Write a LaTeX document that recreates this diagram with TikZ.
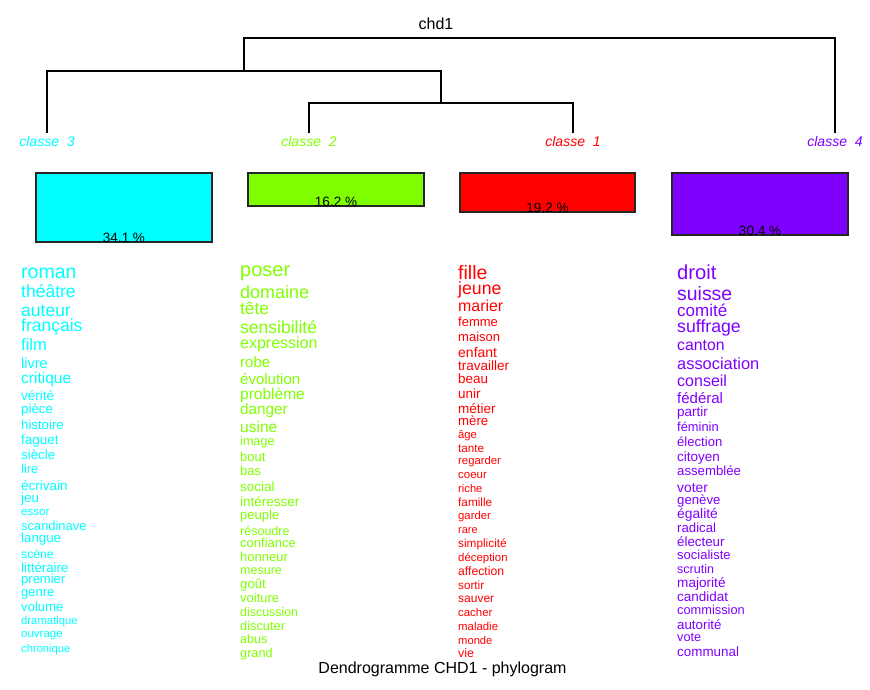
\documentclass[tikz,border=0pt]{standalone}
\usepackage{fontspec}
\setmainfont{Liberation Sans}
\definecolor{clsone}{RGB}{255,0,0}
\definecolor{clstwo}{RGB}{128,255,0}
\definecolor{clsthree}{RGB}{0,255,255}
\definecolor{clsfour}{RGB}{128,0,255}
\begin{document}
\begin{tikzpicture}[x=1pt,y=-1pt,
  tree/.style={line width=1.2pt},
  leaf/.style={anchor=base,font=\fontsize{14}{14}\selectfont\itshape,inner sep=1pt,outer sep=2pt},
  bar/.style={draw=black!85,line width=1.2pt,anchor=north west,inner sep=0pt,outer sep=0pt},
  pct/.style={anchor=base,font=\fontsize{13.5}{13.5}\selectfont,inner sep=0pt},
  word/.style={anchor=base west,inner sep=0pt}]
  \path[use as bounding box,fill=white] (0,0) rectangle (870,689);

  \node[anchor=base,font=\fontsize{16}{16}\selectfont] (title) at (436,29) {chd1};
  \node[anchor=base,font=\fontsize{16}{16}\selectfont] (caption) at (442.5,673) {Dendrogramme CHD1 - phylogram};

  \node[leaf,text=clsthree] (c3) at (47,146) {classe\ \ 3};
  \node[leaf,text=clstwo] (c2) at (309,146) {classe\ \ 2};
  \node[leaf,text=clsone] (c1) at (573,146) {classe\ \ 1};
  \node[leaf,text=clsfour] (c4) at (835,146) {classe\ \ 4};

  \coordinate (root) at (539.5,38);
  \coordinate (sub) at (244,71);
  \coordinate (inner) at (441,103);
  \draw[tree] (c3.north) |- (sub) -| (inner);
  \draw[tree] (c2.north) |- (inner) -| (c1.north);
  \draw[tree] (sub) |- (root) -| (c4.north);

  \node[bar,fill=clsthree,minimum width=176pt,minimum height=69pt] (b3) at (36,173) {};
  \node[bar,fill=clstwo,minimum width=176pt,minimum height=33pt] (b2) at (248,173) {};
  \node[bar,fill=clsone,minimum width=175pt,minimum height=39pt] (b1) at (460,173) {};
  \node[bar,fill=clsfour,minimum width=176pt,minimum height=62pt] (b4) at (672,173) {};
  \node[pct] (p3) at (b3.south) {34.1 \%};
  \node[pct] (p2) at (b2.south) {16.2 \%};
  \node[pct] (p1) at (b1.south) {19.2 \%};
  \node[pct] (p4) at (b4.south) {30.4 \%};

  \foreach \t/\s/\y [count=\i] in {roman/19.5/272,théâtre/17.5/291,auteur/17.5/310,français/17.5/325,film/16.5/345,livre/14.5/363,critique/15.5/378,vérité/13.5/395,pièce/13.3/409,histoire/13.2/425,faguet/13.5/439,siècle/13.3/455,lire/12.7/469,écrivain/13.5/485,jeu/13.5/497,essor/11.6/511,scandinave/12.9/526,langue/13.3/538,scène/12.2/554,littéraire/13.3/568,premier/13/579,genre/13/592,volume/13.1/607,dramatique/11.3/620,ouvrage/11.5/633,chronique/11.2/648}
    {\pgfmathsetmacro\yb{\y+0.26*\s+1.5}
     \node[word,text=clsthree,font=\fontsize{\s}{\s}\selectfont] (wthree\i) at (21,\yb) {\t};}

  \foreach \t/\s/\y [count=\i] in {poser/20/270,domaine/18/292,tête/17.2/309,sensibilité/17.5/327,expression/16/343,robe/15/362,évolution/15/379,problème/15.5/394,danger/15.3/409,usine/15.5/427,image/12.6/441,bout/13/457,bas/13/471,social/13.5/486,intéresser/13.5/501,peuple/13/515,résoudre/12.5/531,confiance/13/543,honneur/13/557,mesure/12.5/570,goût/13.2/584,voiture/13/598,discussion/12.4/612,discuter/12.8/626,abus/12.5/639,grand/12.7/653}
    {\pgfmathsetmacro\yb{\y+0.26*\s+1.5}
     \node[word,text=clstwo,font=\fontsize{\s}{\s}\selectfont] (wtwo\i) at (240,\yb) {\t};}

  \foreach \t/\s/\y [count=\i] in {fille/19.5/273,jeune/17.7/288,marier/15.9/306,femme/13/322,maison/13/337,enfant/14/352,travailler/13.5/365,beau/13.4/379,unir/13.5/393,métier/13.5/408,mère/13.2/421,âge/11.2/434,tante/11.7/448,regarder/11.3/460,coeur/11.5/474,riche/11.2/488,famille/11.8/502,garder/11.3/515,rare/10.9/529,simplicité/11.8/543,déception/11.4/557,affection/12.2/571,sortir/11.7/585,sauver/12/598,cacher/11.4/612,maladie/11.4/626,monde/11.2/640,vie/12.4/653}
    {\pgfmathsetmacro\yb{\y+0.26*\s+1.5}
     \node[word,text=clsone,font=\fontsize{\s}{\s}\selectfont] (wone\i) at (458,\yb) {\t};}

  \foreach \t/\s/\y [count=\i] in {droit/20.2/273,suisse/19.4/294,comité/17/311,suffrage/17.7/326,canton/15.8/345,association/16.4/364,conseil/16/381,fédéral/15/398,partir/13.5/411,féminin/12.9/427,élection/13.1/442,citoyen/13.5/456,assemblée/13.2/471,voter/13.8/487,genève/13.2/500,égalité/13.8/513,radical/13.2/528,électeur/13.3/542,socialiste/13/555,scrutin/12.5/569,majorité/13.6/582,candidat/13.5/596,commission/12.8/610,autorité/13.3/625,vote/12.7/637,communal/13.4/652}
    {\pgfmathsetmacro\yb{\y+0.26*\s+1.5}
     \node[word,text=clsfour,font=\fontsize{\s}{\s}\selectfont] (wfour\i) at (677,\yb) {\t};}

%  \foreach \n in {1,...,4}
%    \draw[dashed] (c\n.south) -- (b\n.north);
\end{tikzpicture}
\end{document}
